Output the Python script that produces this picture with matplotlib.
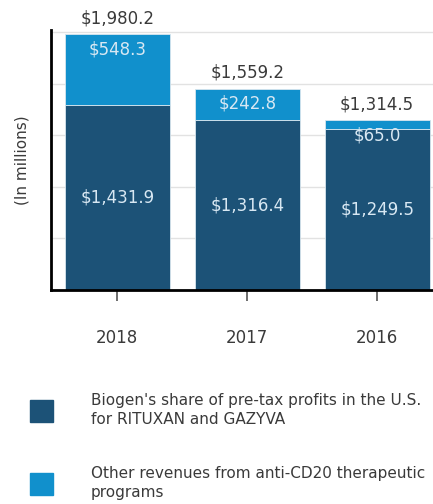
import numpy as np
import matplotlib.pyplot as plt
from matplotlib.patches import Patch

years = ['2018', '2017', '2016']
profit_share = [1431.9, 1316.4, 1249.5]
other_revenue = [548.3, 242.8, 65.0]
totals = [1980.2, 1559.2, 1314.5]
legend_labels = ["Biogen's share of pre-tax profits in the U.S.\nfor RITUXAN and GAZYVA",
                 "Other revenues from anti-CD20 therapeutic\nprograms"]

dark = '#1c5277'
light = '#1190cc'
txt = '#3a3a3a'
inner = '#d8e8f3'

fig = plt.figure(figsize=(4.33, 5.04), dpi=100)
ax = fig.add_axes([51 / 433, 1 - 290 / 504, 1 - 51 / 433, 260 / 504])

x = np.arange(len(years))
ax.bar(x, profit_share, width=0.81, color=dark, edgecolor='#d8e6ee', linewidth=0.6, zorder=2)
ax.bar(x, other_revenue, bottom=profit_share, width=0.81, color=light,
       edgecolor='#d8e6ee', linewidth=0.6, zorder=2)

for i in range(len(years)):
    ax.annotate(f'${profit_share[i]:,.1f}', (x[i], profit_share[i] / 2), ha='center', va='center',
                color=inner, fontsize=12)
    ax.annotate(f'${other_revenue[i]:,.1f}', (x[i], totals[i]), xytext=(0, -15), textcoords='offset pixels',
                ha='center', va='center', color=inner, fontsize=12)
    ax.annotate(f'${totals[i]:,.1f}', (x[i], totals[i]), xytext=(0, 16), textcoords='offset pixels',
                ha='center', va='center', color=txt, fontsize=12)

ax.set_xlim(-0.51, 2.43)
ax.set_ylim(0, 2015)
ax.set_yticks([400, 800, 1200, 1600, 2000])
ax.set_yticklabels([])
ax.tick_params(axis='y', length=0)
ax.set_xticks(x)
ax.set_xticklabels(years, color=txt, fontsize=12)
ax.tick_params(axis='x', length=8, width=1.2, pad=20, color='#555555')
ax.grid(axis='y', color='#e2e2e2', linewidth=1, zorder=0)
for s in ['top', 'right']:
    ax.spines[s].set_visible(False)
ax.spines['left'].set_linewidth(2)
ax.spines['bottom'].set_linewidth(2)
ax.set_ylabel('(In millions)', color=txt, fontsize=11, labelpad=12)

handles = [Patch(color=dark), Patch(color=light)]
leg = fig.legend(handles, legend_labels, loc='upper left', bbox_to_anchor=(16 / 433, 1 - 379 / 504),
                 frameon=False, fontsize=11, handlelength=1.5, handleheight=1.84,
                 handletextpad=2.5, labelspacing=2.55, labelcolor=txt)
for t in leg.get_texts():
    t.set_linespacing(1.35)

fig.savefig('out.png', dpi=100)
